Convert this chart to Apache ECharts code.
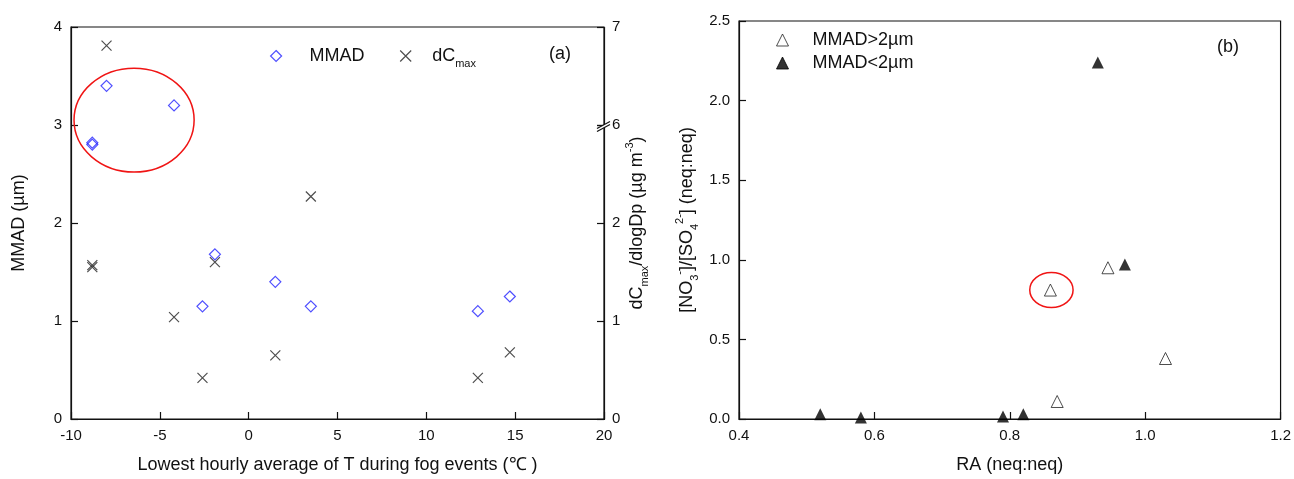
<!DOCTYPE html>
<html>
<head>
<meta charset="utf-8">
<script src="https://cdn.jsdelivr.net/npm/echarts@6.0.0/dist/echarts.min.js"></script>
<style>
  html, body { margin: 0; padding: 0; background: #fff; }
  #chart { width: 1294px; height: 479px; }
</style>
</head>
<body>
<div id="chart"></div>
<script>
// ---- Panel (a): lowest hourly temperature of each fog event ----
const fogTempMmad = [-8.8, -8.8, -8.0, -4.2, -1.9, -2.6, 1.5, 3.5, 12.9, 14.7];
const mmadValues  = [2.80, 2.82, 3.40, 3.20, 1.68, 1.15, 1.40, 1.15, 1.10, 1.25];
const fogTempDc   = [-8.8, -8.8, -8.0, -4.2, -1.9, -2.6, 1.5, 3.5, 12.9, 14.7];
const dcMaxValues = [1.55, 1.57, 6.81, 1.04, 1.60, 0.42, 0.65, 2.27, 0.42, 0.68];

// ---- Panel (b): nitrate/sulfate ratio against RA ----
const raCoarse    = [0.86, 0.945, 1.03, 0.87];
const ratioCoarse = [0.81, 0.95, 0.38, 0.11];
const raFine      = [0.52, 0.58, 0.79, 0.82, 0.97, 0.93];
const ratioFine   = [0.03, 0.01, 0.015, 0.03, 0.97, 2.24];

// Outlined groups (centre and radii in data units)
const ringA = { x: -6.45, y: 3.05, rx: 3.38, ry: 0.53 };
const ringB = { x: 0.8615, y: 0.81, rx: 0.032, ry: 0.11 };

const FONT = "'Liberation Sans', Arial, sans-serif";
const INK = '#111';

const pairs = (xs, ys) => xs.map((x, i) => [x, ys[i]]);

const richText = {
  m:   { fontFamily: FONT, fontSize: 18, color: INK, lineHeight: 26 },
  sub: { fontFamily: FONT, fontSize: 11, color: INK, lineHeight: 11, verticalAlign: 'bottom' },
  sup: { fontFamily: FONT, fontSize: 11, color: INK, lineHeight: 11, verticalAlign: 'top' }
};

// legend labels sit well to the right of their symbols
const legendRich = Object.assign({}, richText, {
  pa: { fontFamily: FONT, fontSize: 18, color: INK, lineHeight: 26, padding: [0, 0, 0, 23] },
  pb: { fontFamily: FONT, fontSize: 18, color: INK, lineHeight: 26, padding: [0, 0, 0, 16] },
  pc: { fontFamily: FONT, fontSize: 18, color: INK, padding: [0, 0, 0, 19] }
});

const tickLabel = { color: INK, fontFamily: FONT, fontSize: 15 };
const axisLine = { show: true, onZero: false, lineStyle: { color: INK, width: 1.2 } };
const axisTick = { show: true, inside: true, length: 7, lineStyle: { color: INK, width: 1.2 } };

const chart = echarts.init(document.getElementById('chart'), null, { renderer: 'canvas' });

chart.setOption({
  animation: false,
  backgroundColor: '#fff',
  grid: [
    { left: 71, top: 27, right: 690, bottom: 59, show: true, borderColor: INK, borderWidth: 1.2, backgroundColor: 'transparent' },
    { left: 739, top: 21, right: 12, bottom: 59, show: true, borderColor: INK, borderWidth: 1.2, backgroundColor: 'transparent' }
  ],
  xAxis: [
    {
      type: 'value', gridIndex: 0, min: -10, max: 20, interval: 5,
      name: 'Lowest hourly average of T during fog events (\u2103 )',
      nameLocation: 'middle', nameGap: 37,
      nameTextStyle: { color: INK, fontFamily: FONT, fontSize: 18 },
      axisLine, axisTick, splitLine: { show: false },
      axisLabel: Object.assign({ margin: 9 }, tickLabel)
    },
    {
      type: 'value', gridIndex: 1, min: 0.4, max: 1.2, interval: 0.2,
      name: 'RA (neq:neq)',
      nameLocation: 'middle', nameGap: 37,
      nameTextStyle: { color: INK, fontFamily: FONT, fontSize: 18 },
      axisLine, axisTick, splitLine: { show: false },
      axisLabel: Object.assign({ margin: 9, formatter: v => v.toFixed(1) }, tickLabel)
    }
  ],
  yAxis: [
    {
      type: 'value', gridIndex: 0, position: 'left', min: 0, max: 4, interval: 1,
      name: 'MMAD (\u00b5m)', nameLocation: 'middle', nameGap: 43, nameRotate: 90,
      nameTextStyle: { color: INK, fontFamily: FONT, fontSize: 18 },
      axisLine, axisTick, splitLine: { show: false },
      axisLabel: Object.assign({ margin: 9 }, tickLabel)
    },
    {
      type: 'value', gridIndex: 0, position: 'right', min: 0, max: 7, interval: 1,
      breaks: [{ start: 3, end: 6, gap: 0 }],
      breakArea: { show: false },
      breakLabelLayout: { moveOverlap: false },
      name: '{m|dC}{sub|max}{m|/dlogDp (\u00b5g m}{sup|-3}{m|)}',
      nameLocation: 'middle', nameGap: 20, nameRotate: 90,
      nameTextStyle: { color: INK, fontFamily: FONT, fontSize: 18, rich: richText },
      axisLine, axisTick, splitLine: { show: false },
      axisLabel: Object.assign({ margin: 8, formatter: v => (v > 2 && v < 6 ? '' : String(v)) }, tickLabel)
    },
    {
      type: 'value', gridIndex: 1, min: 0, max: 2.5, interval: 0.5,
      name: '{m|[NO}{sub|3}{sup|-}{m|]/[SO}{sub|4}{sup|2-}{m|] (neq:neq)}',
      nameLocation: 'middle', nameGap: 39, nameRotate: 90,
      nameTextStyle: { color: INK, fontFamily: FONT, fontSize: 18, rich: richText },
      axisLine, axisTick, splitLine: { show: false },
      axisLabel: Object.assign({ margin: 9, formatter: v => v.toFixed(1) }, tickLabel)
    }
  ],
  legend: [
    {
      data: ['MMAD', 'dCmax'],
      left: 265, top: 42, orient: 'horizontal',
      itemWidth: 11, itemHeight: 11, itemGap: 35,
      itemStyle: { borderWidth: 1.2 },
      formatter: n => (n === 'dCmax' ? '{pb|dC}{sub|max}' : '{pa|' + n + '}'),
      textStyle: { color: INK, fontFamily: FONT, fontSize: 18, rich: legendRich }
    },
    {
      data: ['MMAD>2\u00b5m', 'MMAD<2\u00b5m'],
      left: 771, top: 26, orient: 'vertical',
      itemWidth: 12, itemHeight: 12, itemGap: 5,
      itemStyle: { borderWidth: 1 },
      formatter: n => '{pc|' + n + '}',
      textStyle: { color: INK, fontFamily: FONT, fontSize: 18, rich: legendRich }
    }
  ],
  series: [
    {
      name: 'MMAD', type: 'scatter', xAxisIndex: 0, yAxisIndex: 0,
      symbol: 'diamond', symbolSize: 11,
      itemStyle: { color: 'rgba(255,255,255,0)', borderColor: '#2323ff', borderWidth: 1.2 },
      data: pairs(fogTempMmad, mmadValues), z: 3
    },
    {
      name: 'dCmax', type: 'scatter', xAxisIndex: 0, yAxisIndex: 1,
      symbol: 'path://M0,0L10,10M0,10L10,0', symbolSize: 10,
      itemStyle: { color: 'rgba(0,0,0,0)', borderColor: '#222', borderWidth: 1.2 },
      data: pairs(fogTempDc, dcMaxValues), z: 3
    },
    {
      name: 'MMAD>2\u00b5m', type: 'scatter', xAxisIndex: 1, yAxisIndex: 2,
      symbol: 'triangle', symbolSize: 12,
      itemStyle: { color: '#fff', borderColor: '#222', borderWidth: 1 },
      data: pairs(raCoarse, ratioCoarse), z: 3
    },
    {
      name: 'MMAD<2\u00b5m', type: 'scatter', xAxisIndex: 1, yAxisIndex: 2,
      symbol: 'triangle', symbolSize: 12,
      itemStyle: { color: '#000', borderColor: '#000', borderWidth: 0 },
      data: pairs(raFine, ratioFine), z: 3
    }
  ]
});

// Red outlines, the break mark on the right axis of (a), and panel letters
function ellipseFor(ring, gridIndex) {
  const c = chart.convertToPixel({ gridIndex }, [ring.x, ring.y]);
  const e = chart.convertToPixel({ gridIndex }, [ring.x + ring.rx, ring.y + ring.ry]);
  return {
    type: 'ellipse', silent: true, z: 10,
    shape: { cx: c[0], cy: c[1], rx: Math.abs(e[0] - c[0]), ry: Math.abs(c[1] - e[1]) },
    style: { fill: null, stroke: '#f01414', lineWidth: 1.5 }
  };
}

const axisX = chart.convertToPixel({ xAxisIndex: 0 }, 20);
const breakY = chart.convertToPixel({ yAxisIndex: 1 }, 6);

chart.setOption({
  graphic: [
    ellipseFor(ringA, 0),
    ellipseFor(ringB, 1),
    {
      type: 'polygon', silent: true, z: 11,
      shape: { points: [[axisX - 6, breakY + 3], [axisX + 5, breakY - 3], [axisX + 5, breakY], [axisX - 6, breakY + 6]] },
      style: { fill: '#fff', stroke: null }
    },
    {
      type: 'line', silent: true, z: 12,
      shape: { x1: axisX - 7, y1: breakY + 3.5, x2: axisX + 6, y2: breakY - 3.5 },
      style: { stroke: INK, lineWidth: 1.2 }
    },
    {
      type: 'line', silent: true, z: 12,
      shape: { x1: axisX - 7, y1: breakY + 6.5, x2: axisX + 6, y2: breakY - 0.5 },
      style: { stroke: INK, lineWidth: 1.2 }
    },
    {
      type: 'text', left: 549, top: 45, silent: true,
      style: { text: '(a)', fill: INK, font: "18px 'Liberation Sans', Arial, sans-serif" }
    },
    {
      type: 'text', left: 1217, top: 38, silent: true,
      style: { text: '(b)', fill: INK, font: "18px 'Liberation Sans', Arial, sans-serif" }
    }
  ]
});
</script>
</body>
</html>
